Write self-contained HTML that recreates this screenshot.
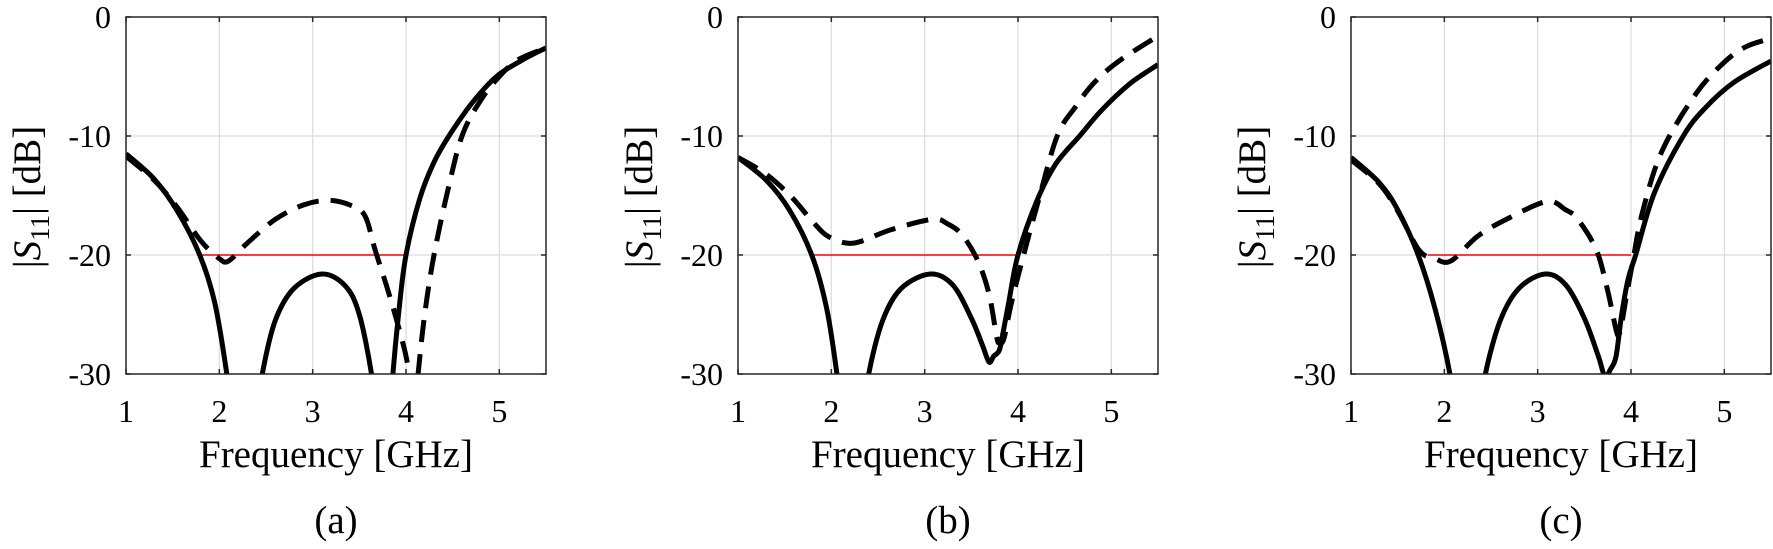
<!DOCTYPE html>
<html><head><meta charset="utf-8"><style>
html,body{margin:0;padding:0;background:#fff;}
svg{display:block;font-family:"Liberation Serif",serif;}
</style></head><body>
<svg id="s" width="1773" height="549" viewBox="0 0 1773 549" xmlns="http://www.w3.org/2000/svg"></svg>
<script>
const NS="http://www.w3.org/2000/svg";
const svg=document.getElementById('s');
const W=420,T=17,B=374;
const panels=[
 {L:126,lab:'(a)',red:[1.8,4.0],
  solid:[[[1,-11.5],[1.3,-13.6],[1.55,-16.3],[1.79,-20],[1.95,-24],[2.08,-30],[2.12,-33]],
         [[2.42,-33],[2.46,-30],[2.6,-25.5],[2.8,-22.8],[3.1,-21.6],[3.35,-22.6],[3.5,-25],[3.63,-30],[3.66,-33]],
         [[3.84,-33],[3.86,-30],[3.92,-25],[4.0,-20],[4.15,-15.2],[4.3,-12.2],[4.46,-10],[4.7,-7.3],[4.97,-5],[5.25,-3.6],[5.5,-2.6]]],
  dash:[[[1,-11.7],[1.3,-13.7],[1.55,-16],[1.8,-18.8],[2.0,-20.3],[2.1,-20.5],[2.3,-19],[2.6,-17],[2.9,-15.8],[3.17,-15.4],[3.4,-15.8],[3.56,-16.7],[3.67,-19.6],[3.8,-22.8],[3.9,-25.5],[4.0,-28.5],[4.05,-31],[4.07,-33]],
        [[4.1,-33],[4.13,-30],[4.2,-25],[4.3,-20],[4.45,-14.5],[4.6,-10],[4.8,-7],[5.0,-5],[5.2,-3.6],[5.5,-2.6]]]},
 {L:738,lab:'(b)',red:[1.79,4.0],
  solid:[[[1,-11.8],[1.3,-13.7],[1.55,-16.2],[1.79,-20],[1.95,-24.5],[2.06,-30],[2.1,-33]],
         [[2.37,-33],[2.4,-30],[2.55,-25.5],[2.75,-22.8],[3.06,-21.6],[3.3,-22.5],[3.5,-25.3],[3.62,-27.6],[3.69,-29],[3.74,-28.5],[3.8,-28],[3.84,-26.5],[3.9,-24],[4.0,-20],[4.2,-15.5],[4.4,-12.4],[4.66,-10],[4.9,-7.8],[5.2,-5.6],[5.5,-4.0]]],
  dash:[[[1,-11.8],[1.3,-13.2],[1.57,-15.1],[1.8,-17.2],[1.98,-18.5],[2.24,-19.0],[2.63,-17.9],[3.08,-17.0],[3.25,-17.4],[3.4,-18.3],[3.57,-20.5],[3.69,-23.3],[3.77,-26.8],[3.8,-27.4],[3.85,-27.0],[3.93,-24],[4.06,-20],[4.22,-15.4],[4.42,-10],[4.62,-7.5],[4.83,-5.4],[5.1,-3.6],[5.5,-1.6]]]},
 {L:1351,lab:'(c)',red:[1.82,4.0],
  solid:[[[1,-11.8],[1.3,-13.9],[1.5,-16.2],[1.72,-20],[1.9,-24.5],[2.06,-30],[2.1,-33]],
         [[2.41,-33],[2.44,-30],[2.6,-25.5],[2.8,-22.8],[3.08,-21.6],[3.3,-22.5],[3.5,-25.3],[3.65,-28.5],[3.72,-30.2],[3.78,-29.6],[3.84,-28.5],[3.9,-25],[3.97,-22],[4.05,-20],[4.25,-14.8],[4.56,-10],[4.8,-7.6],[5.1,-5.5],[5.5,-3.7]]],
  dash:[[[1,-12],[1.3,-14],[1.5,-16.3],[1.73,-19.6],[1.9,-20.3],[2.07,-20.5],[2.36,-18.4],[2.69,-16.9],[3.1,-15.5],[3.3,-16.2],[3.43,-17.0],[3.63,-19.6],[3.75,-23],[3.84,-26.3],[3.87,-26.7],[3.9,-25.8],[3.95,-23.5],[4.02,-20.5],[4.12,-16.5],[4.33,-11.3],[4.7,-6.4],[5.0,-3.8],[5.23,-2.5],[5.5,-1.8]]]}
];
function el(t,a,p){const e=document.createElementNS(NS,t);for(const k in a)e.setAttribute(k,a[k]);(p||svg).appendChild(e);return e;}
function path(pts){
 let d='M'+pts[0][0].toFixed(1)+','+pts[0][1].toFixed(1);
 for(let i=0;i<pts.length-1;i++){
  const p0=pts[i-1]||pts[i],p1=pts[i],p2=pts[i+1],p3=pts[i+2]||p2;
  const c1=[p1[0]+(p2[0]-p0[0])/6,p1[1]+(p2[1]-p0[1])/6];
  const c2=[p2[0]-(p3[0]-p1[0])/6,p2[1]-(p3[1]-p1[1])/6];
  d+=`C${c1[0].toFixed(1)},${c1[1].toFixed(1)} ${c2[0].toFixed(1)},${c2[1].toFixed(1)} ${p2[0].toFixed(1)},${p2[1].toFixed(1)}`;
 }
 return d;
}
panels.forEach((P,i)=>{
 const X=f=>P.L+(f-1)*W/4.5, Y=v=>T+(-v)*(B-T)/30;
 for(let f=2;f<=5;f++) el('line',{x1:X(f),x2:X(f),y1:T,y2:B,stroke:'#dcdcdc','stroke-width':1.2});
 for(let v=-10;v>=-20;v-=10) el('line',{x1:P.L,x2:P.L+W,y1:Y(v),y2:Y(v),stroke:'#dcdcdc','stroke-width':1.2});
 const cp=el('clipPath',{id:'c'+i});el('rect',{x:P.L,y:T,width:W,height:B-T},cp);
 const g=el('g',{'clip-path':`url(#c${i})`});
 el('line',{x1:X(P.red[0]),x2:X(P.red[1]),y1:Y(-20),y2:Y(-20),stroke:'#ff0000','stroke-width':1.6},g);
 P.dash.forEach(s=>el('path',{d:path(s.map(p=>[X(p[0]),Y(p[1])])),fill:'none',stroke:'#000','stroke-width':5,'stroke-dasharray':'22 12'},g));
 P.solid.forEach(s=>el('path',{d:path(s.map(p=>[X(p[0]),Y(p[1])])),fill:'none',stroke:'#000','stroke-width':5,'stroke-linejoin':'round'},g));
 el('rect',{x:P.L,y:T,width:W,height:B-T,fill:'none',stroke:'#262626','stroke-width':1.5});
 for(let f=1;f<=5;f++){
  el('line',{x1:X(f),x2:X(f),y1:B,y2:B-5,stroke:'#262626','stroke-width':1.5});
  el('line',{x1:X(f),x2:X(f),y1:T,y2:T+5,stroke:'#262626','stroke-width':1.5});
  const t=el('text',{x:X(f),y:422,'font-size':32,'text-anchor':'middle',fill:'#000'});t.textContent=f;
 }
 [0,-10,-20,-30].forEach(v=>{
  el('line',{x1:P.L,x2:P.L+5,y1:Y(v),y2:Y(v),stroke:'#262626','stroke-width':1.5});
  el('line',{x1:P.L+W,x2:P.L+W-5,y1:Y(v),y2:Y(v),stroke:'#262626','stroke-width':1.5});
  const t=el('text',{x:P.L-15,y:Y(v)+11,'font-size':32,'text-anchor':'end',fill:'#000'});t.textContent=v;
 });
 const cx=P.L+W/2;
 const fx=el('text',{x:cx,y:467,'font-size':39,'text-anchor':'middle',fill:'#000'});fx.textContent='Frequency [GHz]';
 const lb=el('text',{x:cx,y:533,'font-size':39,'text-anchor':'middle',fill:'#000'});lb.textContent=P.lab;
 const yl=el('text',{x:0,y:0,'font-size':39,'text-anchor':'middle',fill:'#000',transform:`translate(${P.L-86},197) rotate(-90)`});
 yl.innerHTML='|<tspan font-style="italic">S</tspan><tspan font-size="27" dy="9">11</tspan><tspan dy="-9">| [dB]</tspan>';
});
</script>
</body></html>
